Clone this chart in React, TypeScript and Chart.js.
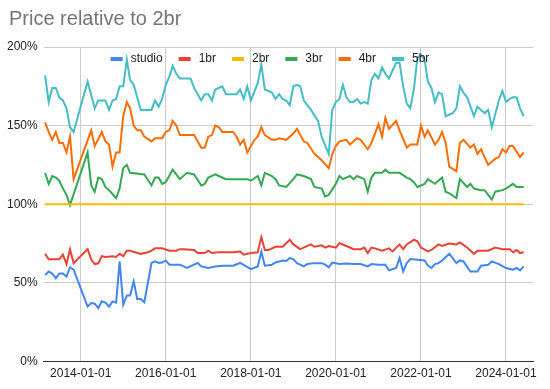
import React, { useEffect, useRef } from "react";
import { Chart, registerables } from "chart.js";

Chart.register(...registerables);

const TITLE = "Price relative to 2br";
const SERIES_NAMES = ["studio", "1br", "2br", "3br", "4br", "5br"];
const SERIES_COLORS = ["#4285F4", "#EA4335", "#FBBC04", "#34A853", "#FF6D01", "#46BDC6"];
const X_TICK_LABELS = ["2014-01-01", "2016-01-01", "2018-01-01", "2020-01-01", "2022-01-01", "2024-01-01"];
const Y_TICKS = [0, 50, 100, 150, 200];
const X_RANGE = ["2013-02-17", "2024-08-20"];

const STUDIO: [string, number][] = [
  ["2013-03", 55], ["2013-04", 57.3], ["2013-05", 56], ["2013-06", 53], ["2013-07", 56], ["2013-08", 56],
  ["2013-09", 54], ["2013-10", 60], ["2013-11", 58.5], ["2014-03", 35], ["2014-04", 37.2], ["2014-05", 36.8],
  ["2014-06", 34], ["2014-07", 38.3], ["2014-08", 37.5], ["2014-09", 35], ["2014-10", 38.3], ["2014-11", 37.5],
  ["2014-12", 63.7], ["2015-01", 36.2], ["2015-02", 42], ["2015-03", 42], ["2015-04", 51], ["2015-05", 39.8],
  ["2015-06", 39.8], ["2015-07", 37.7], ["2015-09", 62.7], ["2015-10", 63.7], ["2015-11", 62.7], ["2015-12", 63],
  ["2016-01", 64.3], ["2016-02", 61.6], ["2016-05", 61.6], ["2016-07", 59.5], ["2016-09", 61.6], ["2016-10", 62.7],
  ["2016-11", 60.5], ["2017-01", 59.5], ["2017-03", 60.5], ["2017-05", 61], ["2017-08", 61], ["2017-10", 62.7],
  ["2018-01", 58.8], ["2018-03", 60.5], ["2018-04", 70], ["2018-05", 61], ["2018-07", 61.6], ["2018-08", 63],
  ["2018-10", 64.3], ["2018-11", 64], ["2018-12", 65.8], ["2019-01", 65.2], ["2019-02", 62.6], ["2019-04", 60.5],
  ["2019-05", 62], ["2019-07", 62.6], ["2019-09", 62.6], ["2019-10", 61.6], ["2019-11", 59.9], ["2019-12", 63],
  ["2020-02", 62], ["2020-04", 62.3], ["2020-06", 62], ["2020-08", 62], ["2020-10", 60.5], ["2020-11", 62],
  ["2021-01", 61.6], ["2021-03", 61.6], ["2021-04", 58], ["2021-06", 59.5], ["2021-07", 65.8], ["2021-08", 57.3],
  ["2021-09", 62.6], ["2021-10", 65.2], ["2021-12", 64.7], ["2022-02", 64.3], ["2022-03", 61], ["2022-04", 59.5],
  ["2022-05", 62], ["2022-06", 62.6], ["2022-07", 64.3], ["2022-09", 68.6], ["2022-11", 62.6], ["2022-12", 64.3],
  ["2023-01", 63.7], ["2023-03", 57.3], ["2023-05", 57.3], ["2023-06", 61], ["2023-08", 61.6], ["2023-09", 63.7],
  ["2023-11", 62], ["2024-01", 59.5], ["2024-03", 58.4], ["2024-04", 59.5], ["2024-05", 58], ["2024-06", 60.5],
];

const BR1: [string, number][] = [
  ["2013-03", 68.6], ["2013-04", 65], ["2013-07", 65], ["2013-08", 68], ["2013-09", 62], ["2013-10", 71.5],
  ["2013-11", 62.5], ["2014-03", 71.5], ["2014-04", 65], ["2014-05", 62], ["2014-06", 62.5], ["2014-07", 67],
  ["2014-08", 66.5], ["2014-10", 67], ["2014-11", 66.5], ["2014-12", 68.5], ["2015-01", 67], ["2015-02", 70.5],
  ["2015-03", 70.5], ["2015-06", 68.5], ["2015-08", 69.5], ["2015-09", 70.5], ["2015-10", 72], ["2015-12", 72],
  ["2016-02", 70.5], ["2016-04", 70.5], ["2016-05", 71.5], ["2016-06", 71.5], ["2016-09", 71], ["2016-10", 69],
  ["2016-12", 69], ["2017-01", 70.5], ["2017-02", 69], ["2017-04", 69.5], ["2017-08", 69.5], ["2017-10", 70],
  ["2017-11", 68], ["2018-01", 69], ["2018-03", 69.5], ["2018-04", 79], ["2018-05", 71], ["2018-06", 71],
  ["2018-08", 73], ["2018-10", 73], ["2018-12", 77.5], ["2019-01", 74.5], ["2019-03", 71.5], ["2019-06", 74.5],
  ["2019-07", 73], ["2019-09", 74], ["2019-10", 72.5], ["2019-11", 73.5], ["2020-01", 72.5], ["2020-02", 75.3],
  ["2020-04", 73.5], ["2020-06", 71.5], ["2020-08", 71.5], ["2020-09", 72.5], ["2020-10", 69], ["2020-11", 72.5],
  ["2020-12", 72], ["2021-02", 70.5], ["2021-04", 72], ["2021-05", 70], ["2021-07", 74.5], ["2021-08", 71.5],
  ["2021-09", 74.5], ["2021-11", 77.5], ["2021-12", 76.5], ["2022-01", 72.5], ["2022-03", 70], ["2022-04", 71],
  ["2022-06", 74.5], ["2022-07", 73.5], ["2022-09", 75], ["2022-11", 74.5], ["2022-12", 75.8], ["2023-02", 72.5],
  ["2023-04", 68.5], ["2023-05", 70.5], ["2023-08", 70.5], ["2023-10", 72.5], ["2023-12", 71.5], ["2024-02", 71.5],
  ["2024-03", 69.5], ["2024-04", 71], ["2024-05", 69], ["2024-06", 69.5],
];

const BR2: [string, number][] = [
  ["2013-03", 100], ["2014-01", 100], ["2016-01", 100], ["2018-01", 100], ["2020-01", 100], ["2022-01", 100],
  ["2024-01", 100], ["2024-06", 100],
];

const BR3: [string, number][] = [
  ["2013-03", 120], ["2013-04", 113], ["2013-05", 118], ["2013-06", 117], ["2013-07", 115], ["2013-08", 110],
  ["2013-09", 106], ["2013-10", 99.5], ["2014-03", 133], ["2014-04", 112], ["2014-05", 108], ["2014-06", 117],
  ["2014-07", 116], ["2014-08", 111], ["2014-09", 109], ["2014-11", 104], ["2014-12", 110], ["2015-01", 123],
  ["2015-02", 125], ["2015-03", 120], ["2015-07", 119], ["2015-09", 112], ["2015-10", 117], ["2015-11", 117],
  ["2015-12", 113], ["2016-01", 114], ["2016-03", 122], ["2016-04", 119], ["2016-05", 116], ["2016-07", 120],
  ["2016-09", 119], ["2016-11", 112], ["2016-12", 113], ["2017-01", 117], ["2017-03", 119], ["2017-04", 118],
  ["2017-06", 116], ["2017-12", 116], ["2018-01", 115], ["2018-03", 118], ["2018-04", 112], ["2018-05", 120],
  ["2018-07", 118], ["2018-08", 116], ["2018-09", 112], ["2018-11", 111], ["2019-01", 116], ["2019-02", 119],
  ["2019-04", 118], ["2019-06", 116], ["2019-07", 111], ["2019-09", 110], ["2019-10", 105], ["2019-11", 106],
  ["2020-01", 113], ["2020-02", 118], ["2020-03", 116], ["2020-05", 118], ["2020-06", 116], ["2020-07", 118],
  ["2020-09", 116], ["2020-10", 108], ["2020-11", 117], ["2020-12", 120], ["2021-02", 120], ["2021-03", 122],
  ["2021-04", 120], ["2021-07", 120], ["2021-09", 117], ["2021-10", 116], ["2021-11", 114], ["2021-12", 111],
  ["2022-02", 113], ["2022-03", 116], ["2022-05", 113], ["2022-07", 117], ["2022-08", 108], ["2022-09", 107],
  ["2022-11", 104], ["2022-12", 116], ["2023-02", 111], ["2023-03", 113], ["2023-04", 110], ["2023-06", 109],
  ["2023-07", 109], ["2023-09", 103], ["2023-10", 108], ["2023-12", 109], ["2024-01", 110], ["2024-03", 113],
  ["2024-04", 111], ["2024-06", 111],
];

const BR4: [string, number][] = [
  ["2013-03", 152], ["2013-04", 146], ["2013-05", 141], ["2013-06", 146], ["2013-07", 139], ["2013-08", 139],
  ["2013-09", 133], ["2013-10", 143], ["2013-11", 116], ["2014-04", 147], ["2014-05", 137], ["2014-07", 146],
  ["2014-08", 140], ["2014-09", 138], ["2014-10", 124], ["2014-11", 133], ["2014-12", 133], ["2015-01", 156],
  ["2015-02", 165], ["2015-03", 161], ["2015-04", 150], ["2015-05", 147], ["2015-06", 147], ["2015-07", 143],
  ["2015-09", 140], ["2015-10", 142], ["2015-12", 142], ["2016-01", 146], ["2016-02", 147], ["2016-03", 153],
  ["2016-04", 150], ["2016-05", 144], ["2016-09", 144], ["2016-11", 136], ["2016-12", 136], ["2017-01", 143],
  ["2017-02", 144], ["2017-03", 150], ["2017-04", 149], ["2017-05", 146], ["2017-08", 146], ["2017-09", 143],
  ["2017-10", 138], ["2017-11", 141], ["2017-12", 133], ["2018-02", 141], ["2018-03", 143], ["2018-04", 149],
  ["2018-05", 144], ["2018-07", 141], ["2018-08", 141], ["2018-09", 142], ["2018-11", 141], ["2019-01", 145],
  ["2019-02", 148], ["2019-04", 140], ["2019-05", 139], ["2019-07", 132], ["2019-08", 130], ["2019-09", 128],
  ["2019-11", 123], ["2019-12", 132], ["2020-01", 137], ["2020-02", 140], ["2020-04", 141], ["2020-05", 138],
  ["2020-07", 142], ["2020-08", 141], ["2020-10", 135], ["2020-11", 139], ["2021-01", 151], ["2021-02", 143],
  ["2021-03", 155], ["2021-04", 148], ["2021-06", 153], ["2021-07", 147], ["2021-09", 136], ["2021-10", 138],
  ["2021-12", 138], ["2022-01", 150], ["2022-02", 143], ["2022-03", 147], ["2022-05", 138], ["2022-06", 141],
  ["2022-07", 146], ["2022-08", 139], ["2022-09", 124], ["2022-11", 121], ["2022-12", 139], ["2023-01", 141],
  ["2023-03", 136], ["2023-04", 138], ["2023-05", 132], ["2023-06", 135], ["2023-07", 130], ["2023-08", 125],
  ["2023-10", 129], ["2023-11", 130], ["2023-12", 135], ["2024-01", 133], ["2024-02", 137], ["2024-03", 137],
  ["2024-05", 130], ["2024-06", 133],
];

const BR5: [string, number][] = [
  ["2013-03", 182], ["2013-04", 165], ["2013-05", 174], ["2013-06", 174], ["2013-07", 168], ["2013-08", 166],
  ["2013-09", 161], ["2013-10", 149], ["2013-11", 146], ["2014-03", 178], ["2014-05", 161], ["2014-06", 166],
  ["2014-08", 166], ["2014-09", 160], ["2014-10", 166], ["2014-11", 167], ["2014-12", 175], ["2015-01", 175],
  ["2015-02", 192], ["2015-03", 179], ["2015-04", 176], ["2015-06", 160], ["2015-09", 160], ["2015-10", 166],
  ["2015-11", 162], ["2015-12", 167], ["2016-01", 176], ["2016-02", 181], ["2016-03", 188], ["2016-04", 183],
  ["2016-05", 180], ["2016-08", 180], ["2016-09", 174], ["2016-11", 166], ["2016-12", 170], ["2017-01", 170],
  ["2017-02", 166], ["2017-03", 173], ["2017-04", 174], ["2017-05", 175], ["2017-06", 170], ["2017-09", 170],
  ["2017-10", 173], ["2017-11", 167], ["2017-12", 175], ["2018-01", 166], ["2018-03", 177], ["2018-04", 189],
  ["2018-05", 173], ["2018-07", 171], ["2018-08", 167], ["2018-09", 170], ["2018-10", 167], ["2018-11", 166],
  ["2018-12", 163], ["2019-01", 175], ["2019-02", 176], ["2019-03", 175], ["2019-04", 166], ["2019-06", 160],
  ["2019-08", 153], ["2019-09", 143], ["2019-11", 132], ["2019-12", 160], ["2020-01", 165], ["2020-02", 167],
  ["2020-03", 176], ["2020-04", 168], ["2020-05", 165], ["2020-06", 165], ["2020-07", 167], ["2020-08", 164],
  ["2020-09", 165], ["2020-10", 164], ["2020-11", 179], ["2020-12", 183], ["2021-01", 180], ["2021-02", 187],
  ["2021-03", 183], ["2021-04", 180], ["2021-06", 190], ["2021-07", 190], ["2021-08", 175], ["2021-09", 164],
  ["2021-10", 161], ["2021-11", 173], ["2021-12", 193], ["2022-01", 195], ["2022-02", 192], ["2022-03", 178],
  ["2022-04", 174], ["2022-05", 165], ["2022-06", 171], ["2022-07", 170], ["2022-08", 156], ["2022-10", 158],
  ["2022-11", 161], ["2022-12", 175], ["2023-01", 171], ["2023-02", 168], ["2023-04", 156], ["2023-05", 162],
  ["2023-06", 160], ["2023-07", 158], ["2023-08", 160], ["2023-09", 149], ["2023-11", 166], ["2023-12", 172],
  ["2024-01", 165], ["2024-02", 167], ["2024-03", 168], ["2024-04", 168], ["2024-05", 161], ["2024-06", 156],
];

const SERIES_DATA = [STUDIO, BR1, BR2, BR3, BR4, BR5];

const FONT = "'Liberation Sans', Arial, sans-serif";

function toTime(s: string): number {
  const parts = s.split("-").map(Number);
  return Date.UTC(parts[0], parts[1] - 1, parts[2] || 1);
}

function fmtDate(v: number): string {
  return new Date(v).toISOString().slice(0, 10);
}

const titleLegendPlugin = {
  id: "titleLegend",
  afterDatasetsDraw(chart: any) {
    const ctx = chart.ctx as CanvasRenderingContext2D;
    ctx.save();
    ctx.font = `20px ${FONT}`;
    ctx.fillStyle = "#757575";
    ctx.textAlign = "left";
    ctx.textBaseline = "alphabetic";
    ctx.fillText(TITLE, 9, 25);

    ctx.font = `12px ${FONT}`;
    const markerW = 12;
    const markerH = 4;
    const textGap = 8;
    const itemGap = 16;
    const datasets = chart.data.datasets;
    const widths = datasets.map((d: any) => markerW + textGap + ctx.measureText(d.label).width);
    const total = widths.reduce((a: number, b: number) => a + b, 0) + itemGap * (widths.length - 1);
    const center = chart.width / 2 - 5;
    let x = center - total / 2;
    const yMid = chart.chartArea.top + 12;
    ctx.textBaseline = "middle";
    datasets.forEach((d: any, i: number) => {
      ctx.fillStyle = d.borderColor;
      ctx.fillRect(x, yMid - markerH / 2, markerW, markerH);
      ctx.fillStyle = "#222222";
      ctx.fillText(d.label, x + markerW + textGap, yMid);
      x += widths[i] + itemGap;
    });
    ctx.restore();
  },
};

export default function App() {
  const ref = useRef<HTMLCanvasElement | null>(null);

  useEffect(() => {
    document.body.style.margin = "0";
    const canvas = ref.current;
    if (!canvas) return;
    const datasets = SERIES_NAMES.map((name, i) => ({
      label: name,
      data: SERIES_DATA[i].map(([d, v]) => ({ x: toTime(d), y: v })),
      borderColor: SERIES_COLORS[i],
      backgroundColor: SERIES_COLORS[i],
      borderWidth: 2,
      pointRadius: 0,
      pointHoverRadius: 0,
      tension: 0,
      fill: false,
    }));
    const tickValues = X_TICK_LABELS.map(toTime);
    const chart = new Chart(canvas, {
      type: "line",
      data: { datasets },
      options: {
        animation: false,
        responsive: false,
        maintainAspectRatio: false,
        devicePixelRatio: 1,
        layout: { padding: { left: 1, right: 17, top: 47, bottom: 3 } },
        plugins: {
          legend: { display: false },
          title: { display: false },
          tooltip: { enabled: false },
        },
        scales: {
          x: {
            type: "linear",
            min: toTime(X_RANGE[0]),
            max: toTime(X_RANGE[1]),
            afterBuildTicks: (scale: any) => {
              scale.ticks = tickValues.map((v) => ({ value: v }));
            },
            ticks: {
              autoSkip: false,
              maxRotation: 0,
              padding: 5,
              color: "#222222",
              font: { family: FONT, size: 12 },
              callback: (v: any) => fmtDate(Number(v)),
            },
            grid: { color: "#cccccc", drawTicks: false, tickLength: 0, lineWidth: 1 },
            border: { display: true, color: "#333333", width: 1 },
          },
          y: {
            min: 0,
            max: 200,
            afterBuildTicks: (scale: any) => {
              scale.ticks = Y_TICKS.map((v) => ({ value: v }));
            },
            ticks: {
              padding: 6,
              color: "#222222",
              font: { family: FONT, size: 12 },
              callback: (v: any) => `${v}%`,
            },
            grid: {
              color: (c: any) => (c.tick && c.tick.value === 0 ? "#333333" : "#cccccc"),
              drawTicks: false,
              tickLength: 0,
              lineWidth: 1,
            },
            border: { display: false },
          },
        },
      },
      plugins: [titleLegendPlugin],
    });
    return () => chart.destroy();
  }, []);

  return (
    <div style={{ width: 550, height: 389, background: "#ffffff" }}>
      <canvas ref={ref} width={550} height={389} style={{ display: "block" }} />
    </div>
  );
}
